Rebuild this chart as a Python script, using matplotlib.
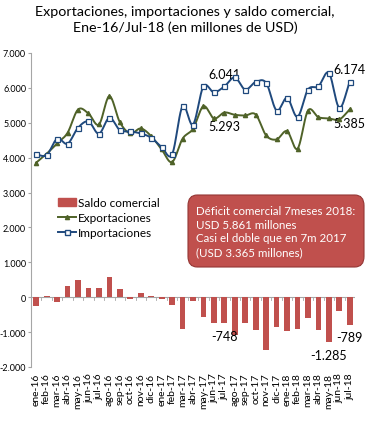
import matplotlib
matplotlib.use("Agg")
import matplotlib.pyplot as plt
import numpy as np
from matplotlib.patches import FancyBboxPatch, Patch
from matplotlib.lines import Line2D
from matplotlib.ticker import FuncFormatter

plt.rcParams['font.family'] = ['Lato', 'DejaVu Sans']

months = ['ene-16', 'feb-16', 'mar-16', 'abr-16', 'may-16', 'jun-16', 'jul-16', 'ago-16',
          'sep-16', 'oct-16', 'nov-16', 'dic-16',
          'ene-17', 'feb-17', 'mar-17', 'abr-17', 'may-17', 'jun-17', 'jul-17', 'ago-17',
          'sep-17', 'oct-17', 'nov-17', 'dic-17',
          'ene-18', 'feb-18', 'mar-18', 'abr-18', 'may-18', 'jun-18', 'jul-18']

importaciones = [4094, 4075, 4543, 4400, 4857, 5037, 4686, 5143, 4790, 4751, 4694, 4571,
                 4303, 4094, 5474, 4949, 6046, 5874, 6041, 6300, 5951, 6171, 6143, 5351,
                 5714, 5171, 5951, 6046, 6429, 5429, 6174]
exportaciones = [3857, 4113, 4409, 4714, 5380, 5266, 4951, 5760, 5017, 4694, 4837, 4617,
                 4237, 3874, 4543, 4829, 5474, 5123, 5293, 5229, 5209, 5237, 4637, 4523,
                 4760, 4257, 5351, 5160, 5123, 5094, 5385]
saldo = [-257, 38, -124, 314, 495, 257, 276, 590, 229, -57, 124, 29,
         -57, -210, -905, -114, -581, -743, -748, -1071, -733, -952, -1505, -857,
         -981, -924, -600, -933, -1285, -381, -789]

# indices of the points that carry a value label
etiquetas_imp = [18, 30]
etiquetas_exp = [18, 30]
etiquetas_saldo = [18, 28, 30]

RED = '#C0504D'
GREEN = '#4F6228'
BLUE = '#1F497D'
GRAY = '#A6A6A6'


def smooth(x, y, n=20):
    # catmull-rom curve through the points, like excel's smoothed line
    x = np.asarray(x, float)
    y = np.asarray(y, float)
    px = np.concatenate([[2 * x[0] - x[1]], x, [2 * x[-1] - x[-2]]])
    py = np.concatenate([[2 * y[0] - y[1]], y, [2 * y[-1] - y[-2]]])
    xs, ys = [], []
    t = np.linspace(0, 1, n, endpoint=False)
    for i in range(1, len(px) - 2):
        for p, out in ((px, xs), (py, ys)):
            p0, p1, p2, p3 = p[i - 1], p[i], p[i + 1], p[i + 2]
            out.append(0.5 * ((2 * p1) + (-p0 + p2) * t
                              + (2 * p0 - 5 * p1 + 4 * p2 - p3) * t ** 2
                              + (-p0 + 3 * p1 - 3 * p2 + p3) * t ** 3))
    xs.append([x[-1]])
    ys.append([y[-1]])
    return np.concatenate(xs), np.concatenate(ys)


fig = plt.figure(figsize=(3.7, 4.27), dpi=100)
ax = fig.add_axes([31 / 370, 1 - 368 / 427, (355 - 31) / 370, (368 - 54) / 427])

x = np.arange(len(months))
ax.bar(x, saldo, width=0.55, color=RED, zorder=2)

sx, sy = smooth(x, exportaciones)
ax.plot(sx, sy, color=GREEN, lw=1.4, zorder=3)
ax.plot(x, exportaciones, ls='none', marker='^', ms=3, color=GREEN, zorder=4)

sx, sy = smooth(x, importaciones)
ax.plot(sx, sy, color=BLUE, lw=1.4, zorder=3)
ax.plot(x, importaciones, ls='none', marker='s', ms=3.6, mfc='white', mec=BLUE, mew=0.9, zorder=4)

fmt = lambda v: f'{v:,.0f}'.replace(',', '.')
for i in etiquetas_imp:
    ax.annotate(fmt(importaciones[i]), (x[i], importaciones[i]), xytext=(0, 9),
                textcoords='offset points', ha='center', va='center', fontsize=9)
for i in etiquetas_exp:
    ax.annotate(fmt(exportaciones[i]), (x[i], exportaciones[i]), xytext=(0, -10),
                textcoords='offset points', ha='center', va='center', fontsize=9)
for i in etiquetas_saldo:
    ax.annotate(fmt(saldo[i]), (x[i], saldo[i]), xytext=(0, -9),
                textcoords='offset points', ha='center', va='center', fontsize=9)

ax.set_xlim(-0.5, len(months) - 0.5)
ax.set_ylim(-2000, 7000)
ax.set_yticks(range(-2000, 7001, 1000))
ax.yaxis.set_major_formatter(FuncFormatter(lambda v, p: fmt(v)))
ax.tick_params(axis='y', labelsize=6.5, length=2.5, color=GRAY, pad=1)
ax.set_xticks(x)
ax.set_xticklabels(months, rotation=90, fontsize=7.5)
ax.tick_params(axis='x', length=0, pad=4)
for s in ['top', 'right', 'bottom']:
    ax.spines[s].set_visible(False)
ax.spines['left'].set_color(GRAY)
ax.axhline(0, color=GRAY, lw=0.8, zorder=1)
for xi in np.arange(-0.5, len(months)):
    ax.plot([xi, xi], [0, -70], color=GRAY, lw=0.6, zorder=1)

handles = [Patch(color=RED),
           Line2D([], [], color=GREEN, lw=1.4, marker='^', ms=3),
           Line2D([], [], color=BLUE, lw=1.4, marker='s', ms=3.6, mfc='white', mec=BLUE)]
ax.legend(handles, ['Saldo comercial', 'Exportaciones', 'Importaciones'],
          loc='upper left', bbox_to_anchor=(52 / 370, 1 - 192 / 427),
          bbox_transform=fig.transFigure, frameon=False, fontsize=8.5,
          handlelength=1.5, handletextpad=0.2, labelspacing=0.35, borderpad=0)

box = FancyBboxPatch((188 / 370, 1 - 268 / 427), (364 - 188) / 370, (268 - 196) / 427,
                     boxstyle='round,pad=0,rounding_size=0.025', transform=fig.transFigure,
                     facecolor=RED, edgecolor='#943634', lw=0.8, zorder=5)
fig.patches.append(box)
fig.text(196 / 370, 1 - 232 / 427,
         'Déficit comercial 7meses 2018:\nUSD 5.861 millones\nCasi el doble que en 7m 2017\n(USD 3.365 millones)',
         color='white', fontsize=8.3, va='center', ha='left', linespacing=1.3, zorder=6)

fig.text(0.5, 1 - 20 / 427, 'Exportaciones, importaciones y saldo comercial,\nEne-16/Jul-18 (en millones de USD)',
         ha='center', va='center', fontsize=10.3, linespacing=1.25)

fig.savefig('out.png', dpi=100)
